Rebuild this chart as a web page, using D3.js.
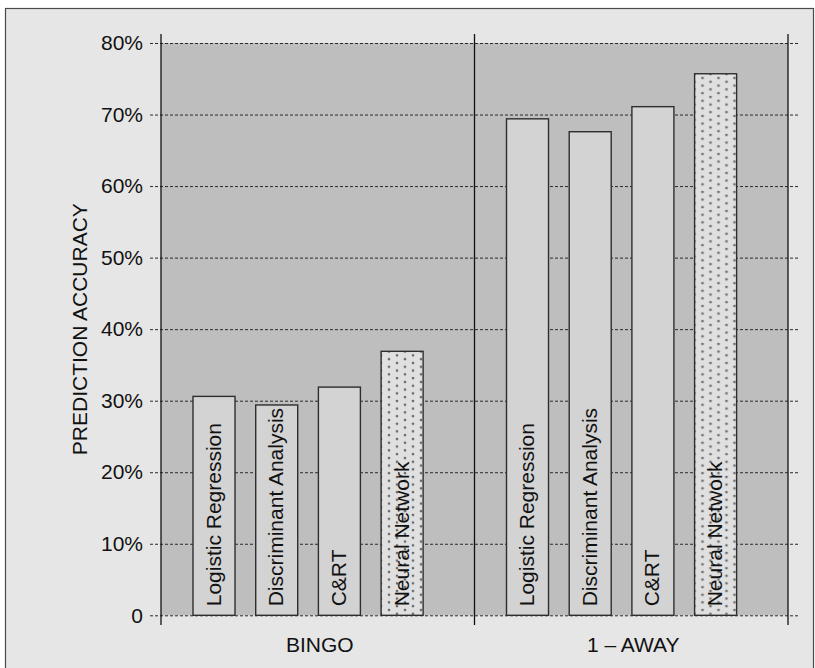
<!DOCTYPE html>
<html>
<head>
<meta charset="utf-8">
<script src="https://cdn.jsdelivr.net/npm/d3@7/dist/d3.min.js"></script>
<style>
  html, body { margin: 0; padding: 0; background: #ffffff; }
  svg { display: block; font-family: "Liberation Sans", Arial, Helvetica, sans-serif; }
</style>
</head>
<body>
<svg id="chart" width="815" height="668"></svg>
<script>
// Prediction accuracy by method, for exact picks ("BINGO") and picks within one ("1 – AWAY")
const groups = ["BINGO", "1 – AWAY"];
const methods = ["Logistic Regression", "Discriminant Analysis", "C&RT", "Neural Network"];
const bingoValues = [0.306, 0.294, 0.319, 0.369];
const oneAwayValues = [0.694, 0.676, 0.711, 0.757];
const yTicks = [0, 0.1, 0.2, 0.3, 0.4, 0.5, 0.6, 0.7, 0.8];
const yTickLabels = ["0", "10%", "20%", "30%", "40%", "50%", "60%", "70%", "80%"];
const yTitle = "PREDICTION ACCURACY";

const seriesByGroup = [bingoValues, oneAwayValues];

const svg = d3.select("#chart");
const plot = { left: 161, right: 788, top: 43, bottom: 615.3 };
const FS = 21;

// outer panel
svg.append("rect")
  .attr("x", 5.5).attr("y", 8.5).attr("width", 808).attr("height", 670)
  .attr("fill", "#e6e6e6").attr("stroke", "#4a4a4a").attr("stroke-width", 1.2);

// scales
const y = d3.scaleLinear().domain([0, 0.8]).range([plot.bottom, plot.top]);
const xGroup = d3.scaleBand().domain(groups).range([plot.left, plot.right]).padding(0);
const xMethod = d3.scaleBand().domain(methods)
  .range([32, 32 + 62.7 * (4 - 0.33)])
  .paddingInner(0.33).paddingOuter(0);

// shaded plot area
svg.append("rect")
  .attr("x", plot.left).attr("y", y(0.8))
  .attr("width", plot.right - plot.left).attr("height", y(0) - y(0.8))
  .attr("fill", "#bebebe");

// dotted fill for the neural network bars
const defs = svg.append("defs");
const pat = defs.append("pattern")
  .attr("id", "dots").attr("patternUnits", "userSpaceOnUse")
  .attr("width", 16).attr("height", 7.6);
pat.append("rect").attr("width", 16).attr("height", 7.6).attr("fill", "#e0e0e0");
pat.append("circle").attr("cx", 4).attr("cy", 2).attr("r", 1.35).attr("fill", "#6a6a6a");
pat.append("circle").attr("cx", 12).attr("cy", 5.8).attr("r", 1.35).attr("fill", "#6a6a6a");

// dashed gridlines with tick labels
const yAxis = d3.axisLeft(y)
  .tickValues(yTicks)
  .tickFormat((d, i) => yTickLabels[i])
  .tickSize(-(800 - 150))
  .tickPadding(7);

const gAxis = svg.append("g")
  .attr("transform", `translate(${800},0)`)
  .call(yAxis);
gAxis.select(".domain").remove();
gAxis.selectAll(".tick line")
  .attr("stroke", "#2a2a2a").attr("stroke-width", 1)
  .attr("stroke-dasharray", "3,2")
  .attr("x1", -(800 - 150)).attr("x2", 0);
gAxis.selectAll(".tick text")
  .attr("x", -(800 - 143))
  .attr("fill", "#111")
  .attr("font-size", FS)
  .attr("text-anchor", "end");

// vertical separators
[plot.left, xGroup("1 – AWAY"), plot.right].forEach(xv => {
  svg.append("line")
    .attr("x1", xv).attr("x2", xv)
    .attr("y1", 34).attr("y2", 625)
    .attr("stroke", "#111").attr("stroke-width", 1.3);
});

// bars
groups.forEach((g, gi) => {
  const gx = xGroup(g);
  const gg = svg.append("g").attr("transform", `translate(${gx},0)`);
  const data = methods.map((m, i) => ({ m, v: seriesByGroup[gi][i] }));

  gg.selectAll("rect.bar").data(data).join("rect")
    .attr("class", "bar")
    .attr("x", d => xMethod(d.m))
    .attr("y", d => y(d.v))
    .attr("width", xMethod.bandwidth())
    .attr("height", d => y(0) - y(d.v))
    .attr("fill", d => d.m === "Neural Network" ? "url(#dots)" : "#d3d3d3")
    .attr("stroke", "#2e2e2e").attr("stroke-width", 1.4);

  gg.selectAll("text.lab").data(data).join("text")
    .attr("class", "lab")
    .attr("transform", d => `translate(${xMethod(d.m) + xMethod.bandwidth() / 2 + 6.5},${y(0) - 9}) rotate(-90)`)
    .attr("text-anchor", "start")
    .attr("font-size", FS)
    .attr("fill", "#111")
    .text(d => d.m);

  svg.append("text")
    .attr("x", gx + xGroup.bandwidth() / 2 + 2)
    .attr("y", 652)
    .attr("text-anchor", "middle")
    .attr("font-size", FS)
    .attr("fill", "#111")
    .text(g);
});

// y axis title
svg.append("text")
  .attr("transform", `translate(${87},${y(0.4)}) rotate(-90)`)
  .attr("text-anchor", "middle")
  .attr("font-size", FS)
  .attr("fill", "#111")
  .text(yTitle);
</script>
</body>
</html>
